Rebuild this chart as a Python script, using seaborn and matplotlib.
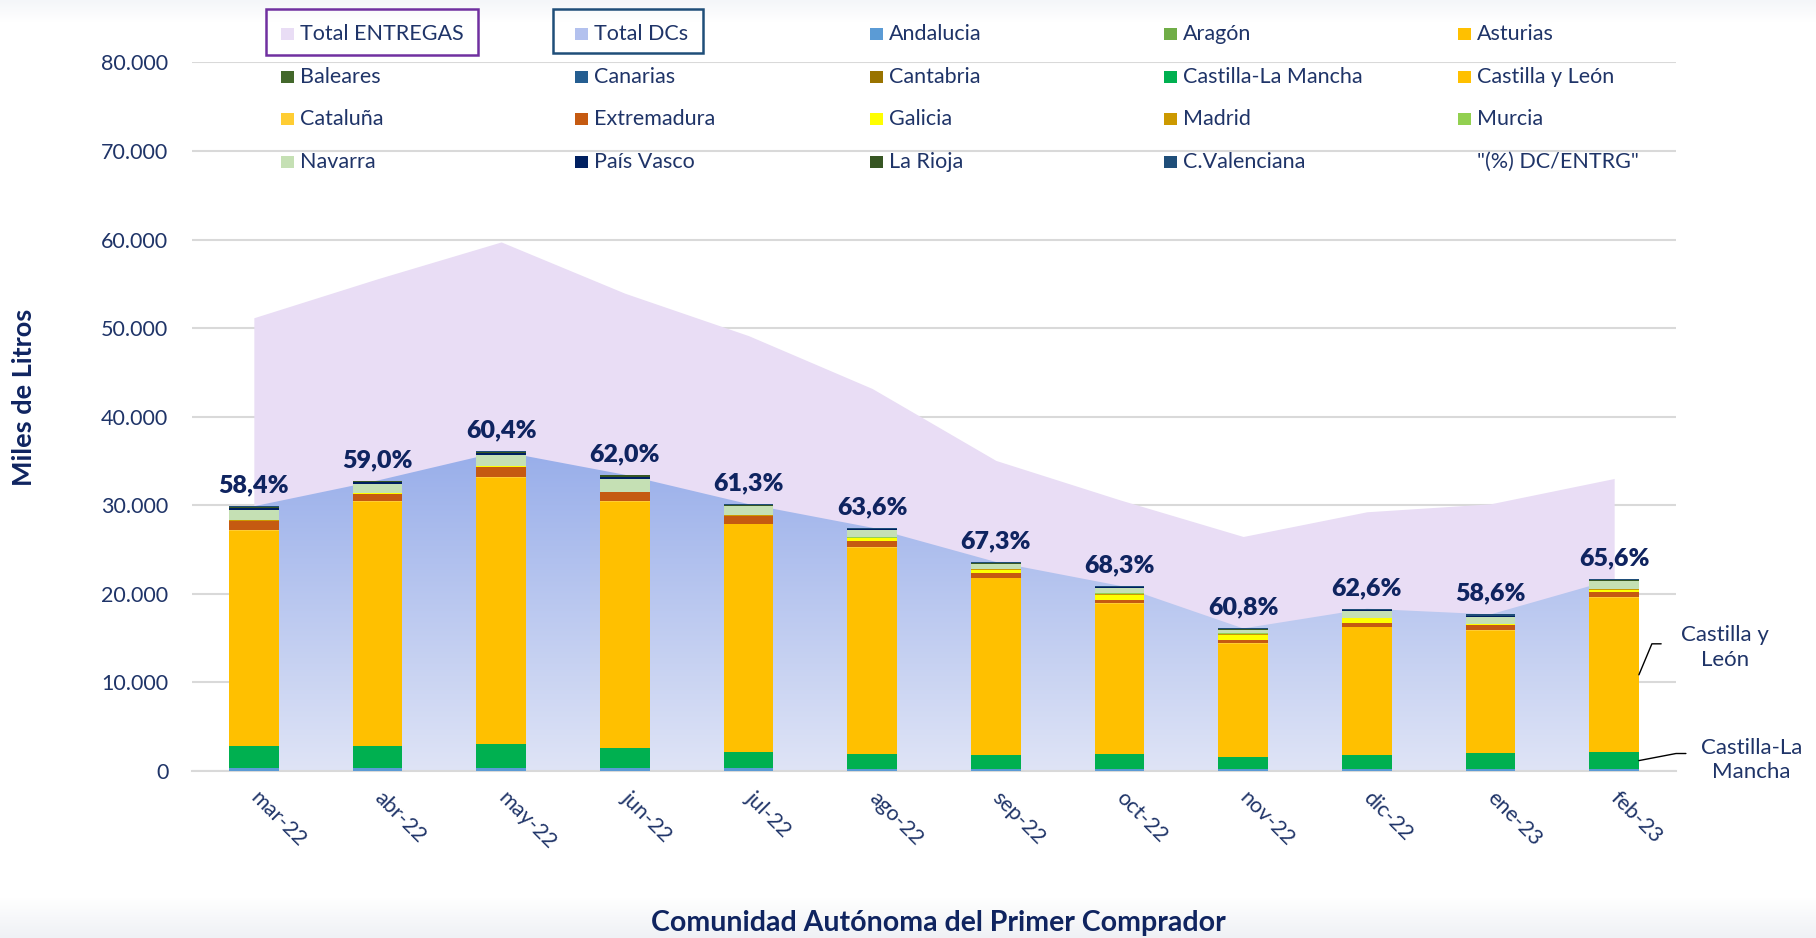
import numpy as np
import pandas as pd
import seaborn as sns
import matplotlib.pyplot as plt
from matplotlib.colors import LinearSegmentedColormap
from matplotlib.patches import Rectangle
import matplotlib.transforms as mtransforms

meses = ['mar-22', 'abr-22', 'may-22', 'jun-22', 'jul-22', 'ago-22',
         'sep-22', 'oct-22', 'nov-22', 'dic-22', 'ene-23', 'feb-23']

# miles de litros por comunidad
andalucia = [370, 375, 375, 375, 375, 190, 190, 190, 190, 190, 190, 190]
aragon = [20, 20, 20, 20, 20, 20, 20, 20, 20, 20, 20, 20]
asturias = [0, 0, 0, 0, 0, 0, 0, 0, 0, 0, 0, 0]
baleares = [0, 0, 0, 0, 0, 0, 0, 0, 0, 0, 0, 0]
canarias = [0, 0, 0, 0, 0, 0, 0, 0, 0, 0, 0, 0]
cantabria = [0, 0, 0, 0, 0, 0, 0, 0, 0, 0, 0, 0]
castilla_la_mancha = [2440, 2440, 2630, 2250, 1800, 1730, 1580, 1730, 1390, 1580, 1770, 1950]
castilla_leon = [24300, 27550, 30050, 27750, 25650, 23200, 19950, 16900, 12780, 14440, 13850, 17400]
cataluna = [110, 100, 90, 90, 100, 100, 75, 100, 75, 75, 75, 100]
extremadura = [980, 830, 1200, 980, 830, 680, 490, 340, 340, 450, 525, 525]
galicia = [40, 40, 40, 40, 60, 410, 410, 560, 525, 490, 150, 300]
madrid = [30, 30, 30, 30, 30, 30, 40, 190, 190, 60, 40, 40]
murcia = [20, 20, 20, 20, 20, 20, 20, 20, 20, 20, 20, 20]
navarra = [1200, 1010, 1200, 1465, 1010, 830, 600, 640, 340, 750, 790, 860]
pais_vasco = [200, 200, 220, 220, 60, 60, 50, 50, 50, 50, 50, 50]
la_rioja = [120, 120, 130, 130, 80, 80, 60, 80, 60, 70, 70, 70]
c_valenciana = [60, 60, 80, 80, 100, 120, 120, 100, 120, 130, 130, 140]

total_entregas = [51180, 55580, 59740, 53950, 49160, 43190,
                  35070, 30630, 26480, 29270, 30170, 33030]

regiones = ['Andalucia', 'Aragón', 'Asturias', 'Baleares', 'Canarias', 'Cantabria',
            'Castilla-La Mancha', 'Castilla y León', 'Cataluña', 'Extremadura',
            'Galicia', 'Madrid', 'Murcia', 'Navarra', 'País Vasco', 'La Rioja',
            'C.Valenciana']
colores = ['#5B9BD5', '#70AD47', '#FFC000', '#43682B', '#255E91', '#997300',
           '#00B050', '#FFC000', '#FFCD33', '#C55A11', '#FFFF00', '#CC9900',
           '#92D050', '#C5E0B4', '#002060', '#375623', '#1F4E79']

df = pd.DataFrame(dict(zip(regiones, [andalucia, aragon, asturias, baleares, canarias,
                                      cantabria, castilla_la_mancha, castilla_leon,
                                      cataluna, extremadura, galicia, madrid, murcia,
                                      navarra, pais_vasco, la_rioja, c_valenciana])),
                  index=meses)
dc_total = df.sum(axis=1).values
pct = dc_total / np.array(total_entregas) * 100
cum = df.cumsum(axis=1)

navy = '#1F3468'
sns.set_style('white')
plt.rcParams['font.family'] = ['Lato', 'DejaVu Sans']

W, H = 1816, 938
def fx(px):
    return px / W
def fy(py):
    return 1 - py / H

fig = plt.figure(figsize=(18.16, 9.38), dpi=100)

# franjas grises suaves arriba y abajo
top = fig.add_axes([0, fy(22), 1, 22 / H])
top.imshow(np.linspace(0, 1, 50).reshape(-1, 1),
           cmap=LinearSegmentedColormap.from_list('t', ['#F4F6F9', '#FFFFFF']),
           aspect='auto')
top.axis('off')
bot = fig.add_axes([0, 0, 1, 40 / H])
bot.imshow(np.linspace(0, 1, 50).reshape(-1, 1),
           cmap=LinearSegmentedColormap.from_list('b', ['#FFFFFF', '#EFF1F5']),
           aspect='auto')
bot.axis('off')

ax = fig.add_axes([fx(192), fy(771), 1484 / W, (771 - 62.5) / H])
ax.patch.set_alpha(0)

xpos = np.arange(len(meses))
ax.fill_between(xpos, total_entregas, color='#E9DDF5', lw=0, zorder=1)
dc_poly = ax.fill_between(xpos, dc_total, color='none', lw=0, zorder=1.5)
grad = np.linspace(1, 0, 256).reshape(-1, 1)
im = ax.imshow(grad, cmap=LinearSegmentedColormap.from_list('dc', ['#DFE4F6', '#98AEEA']),
               extent=(0, len(meses) - 1, 0, dc_total.max()), aspect='auto',
               origin='upper', zorder=1.5)
im.set_clip_path(dc_poly.get_paths()[0], transform=ax.transData)

# barras apiladas: se dibuja el acumulado de arriba hacia abajo
for reg, col in reversed(list(zip(regiones, colores))):
    sns.barplot(x=meses, y=cum[reg].values, color=col, width=0.4, saturation=1,
                errorbar=None, ax=ax, zorder=3, linewidth=0)

for i, p in enumerate(pct):
    ax.annotate(f"{p:.1f}%".replace('.', ','), (i, dc_total[i]), xytext=(0, 7),
                textcoords='offset points', ha='center', va='bottom',
                fontsize=18, fontweight='heavy', color='#0F2460', zorder=5)

ax.set_xlim(-0.5, len(meses) - 0.5)
ax.set_ylim(0, 80000)
ax.set_yticks(range(0, 80001, 10000))
ax.set_yticklabels([f"{v:,}".replace(',', '.') for v in range(0, 80001, 10000)])
ax.yaxis.grid(True, color='#D9D9D9', lw=1.5)
ax.set_axisbelow(True)
sns.despine(ax=ax, left=True)
ax.spines['bottom'].set_color('#D9D9D9')
ax.spines['bottom'].set_linewidth(1.5)
ax.tick_params(axis='y', length=0, pad=17, labelsize=15.5, labelcolor=navy)
ax.tick_params(axis='x', length=0, pad=12, labelsize=15.5, labelcolor=navy)
ax.set_xticks(xpos)
ax.set_xticklabels(meses, rotation=-45, ha='left', rotation_mode='anchor')
shift = mtransforms.ScaledTranslation(7 / 100, 0, fig.dpi_scale_trans)
for lbl in ax.get_xticklabels():
    lbl.set_transform(lbl.get_transform() + shift)

ax.set_ylabel('Miles de Litros', fontsize=19.5, fontweight='bold', color='#0F2460')
ax.yaxis.set_label_coords((24 - 192) / 1484, (771 - 397) / 708.5)
ax.yaxis.label.set_va('center')
ax.set_xlabel('Comunidad Autónoma del Primer Comprador', fontsize=20.5,
              fontweight='bold', color='#0F2460')
ax.xaxis.set_label_coords((938 - 192) / 1484, (771 - 923) / 708.5)
ax.xaxis.label.set_va('center')

# etiquetas de serie a la derecha del ultimo mes
ult = len(meses) - 1
y_cyl = (cum['Castilla-La Mancha'].iloc[ult] + cum['Castilla y León'].iloc[ult]) / 2
y_clm = (cum['Andalucia'].iloc[ult] + cum['Castilla-La Mancha'].iloc[ult]) / 2
ax.plot([ult + 0.2, ult + 0.305, ult + 0.38], [y_cyl, y_cyl + 3500, y_cyl + 3500],
        color='black', lw=1, clip_on=False, zorder=6)
ax.text(ult + 0.893, 13970, 'Castilla y\nLeón', ha='center', va='center',
        fontsize=16, color=navy, linespacing=1.3)
ax.plot([ult + 0.2, ult + 0.5, ult + 0.58], [y_clm, y_clm + 800, y_clm + 800],
        color='black', lw=1, clip_on=False, zorder=6)
ax.text(ult + 1.11, 1240, 'Castilla-La\nMancha', ha='center', va='center',
        fontsize=16, color=navy, linespacing=1.3)

# leyenda en rejilla de 5 columnas
items = [('Total ENTREGAS', '#E9DDF5'), ('Total DCs', '#B3C1EE')] + \
        list(zip(regiones, colores)) + [('"(%) DC/ENTRG"', None)]
for i, (lab, col) in enumerate(items):
    fila, columna = divmod(i, 5)
    x0 = 281 + columna * 294.3
    y0 = 34 + fila * 42.6
    if col:
        fig.patches.append(Rectangle((fx(x0), fy(y0 + 6)), 13 / W, 12 / H,
                                     transform=fig.transFigure, color=col, lw=0))
    fig.text(fx(x0 + 19), fy(y0), lab, ha='left', va='center', fontsize=15.5, color=navy)

fig.patches.append(Rectangle((fx(266), fy(55)), 212 / W, 46 / H, transform=fig.transFigure,
                             fill=False, ec='#7030A0', lw=1.8))
fig.patches.append(Rectangle((fx(553), fy(53)), 150 / W, 44 / H, transform=fig.transFigure,
                             fill=False, ec='#1F4E79', lw=1.8))

fig.savefig('out.png', dpi=100)
